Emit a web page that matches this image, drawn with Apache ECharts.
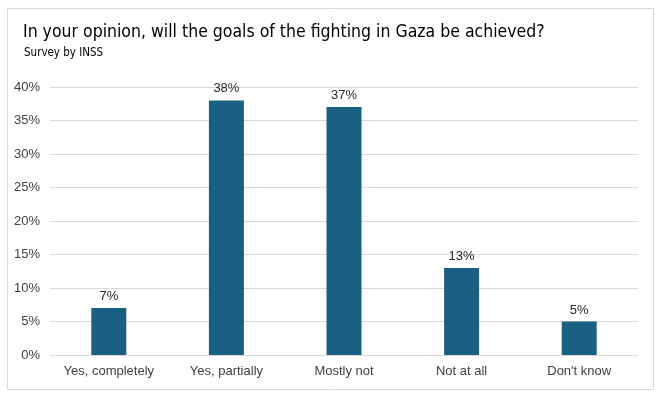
<!DOCTYPE html>
<html><head><meta charset="utf-8">
<script src="https://cdn.jsdelivr.net/npm/echarts@6/dist/echarts.min.js"></script>
<style>html,body{margin:0;padding:0;background:#fff}#c{width:659px;height:397px}</style>
</head><body><div id="c"></div>
<script>
const categories = ["Yes, completely", "Yes, partially", "Mostly not", "Not at all", "Don't know"];
const values = [7, 38, 37, 13, 5];
const yTicks = [0, 5, 10, 15, 20, 25, 30, 35, 40];
const titleText = 'In your opinion, will the goals of the fighting in Gaza be achieved?';
const subText = 'Survey by INSS';

const tFam = "'DejaVu Sans Condensed', 'Liberation Sans', sans-serif";
const titleSize = 17.5;
const subSize = 11.5;

const chart = echarts.init(document.getElementById('c'));
chart.setOption({
  animation: false,
  backgroundColor: '#fff',
  graphic: [{
    type: 'rect', left: 5, top: 6, shape: {width: 646, height: 381},
    style: {fill: 'none', stroke: '#d9d9d9', lineWidth: 1}, silent: true
  }, {
    type: 'text', left: 23, top: 23,
    style: {text: titleText, font: titleSize + 'px ' + tFam, fill: '#000'}, silent: true
  }, {
    type: 'text', left: 24, top: 47,
    style: {text: subText, font: subSize + 'px ' + tFam, fill: '#000'}, silent: true
  }],
  grid: {left: 50, right: 21, top: 87, bottom: 42, containLabel: false},
  xAxis: {
    type: 'category', data: categories,
    axisLine: {lineStyle: {color: '#d9d9d9'}}, axisTick: {show: false},
    axisLabel: {interval: 0, color: '#404040', fontSize: 13, fontFamily: 'Liberation Sans', margin: 10}
  },
  yAxis: {
    type: 'value', min: yTicks[0], max: yTicks[yTicks.length - 1], interval: 5,
    axisLine: {show: false}, axisTick: {show: false},
    splitLine: {lineStyle: {color: '#d9d9d9'}},
    axisLabel: {formatter: '{value}%', color: '#404040', fontSize: 13, fontFamily: 'Liberation Sans', margin: 10}
  },
  series: [{
    type: 'bar', data: values, barWidth: 35,
    itemStyle: {color: '#196082'},
    label: {show: true, position: 'top', formatter: '{c}%', color: '#262626', fontSize: 13, fontFamily: 'Liberation Sans', distance: 5}
  }]
});
</script></body></html>
